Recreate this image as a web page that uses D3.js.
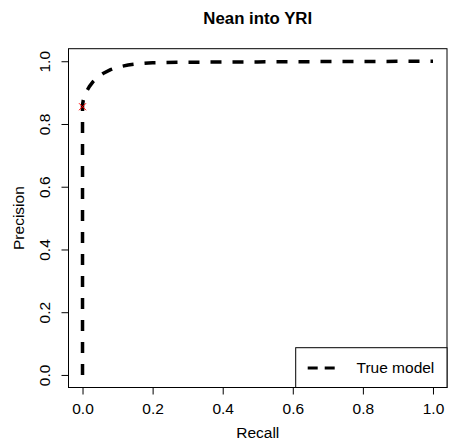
<!DOCTYPE html>
<html>
<head>
<meta charset="utf-8">
<script src="https://cdn.jsdelivr.net/npm/d3@7"></script>
<style>
  body { margin: 0; background: #fff; }
  text { font-family: "Liberation Sans", Arial, sans-serif; }
</style>
</head>
<body>
<div id="chart"></div>
<script>
const width = 450;
const height = 447;

// precision-recall curve
const recall =    [0, 0,    0.002, 0.006, 0.012, 0.02,  0.03,  0.045, 0.06,  0.08,  0.1,   0.13,  0.16,  0.2,   0.3,   0.5,   0.7,   1.0];
const precision = [0, 0.86, 0.875, 0.89,  0.905, 0.92,  0.935, 0.95,  0.962, 0.973, 0.981, 0.988, 0.992, 0.995, 0.997, 0.998, 0.999, 1.0];
const marker = [0.0, 0.855];
const ticks = [0, 0.2, 0.4, 0.6, 0.8, 1.0];
const title = "Nean into YRI";
const xLabel = "Recall";
const yLabel = "Precision";
const legendLabel = "True model";

const box = {left: 68.5, right: 447, top: 48.7, bottom: 387.5};

const x = d3.scaleLinear().domain([-0.04, 1.04]).range([box.left, box.right]);
const y = d3.scaleLinear().domain([-0.04, 1.04]).range([box.bottom, box.top]);

const svg = d3.select("#chart").append("svg")
    .attr("width", width)
    .attr("height", height)
    .attr("viewBox", [0, 0, width, height]);

svg.append("rect")
    .attr("width", width).attr("height", height)
    .attr("fill", "#fff");

// title
svg.append("text")
    .attr("x", (box.left + box.right) / 2)
    .attr("y", 24)
    .attr("text-anchor", "middle")
    .style("font-weight", "bold")
    .style("font-size", "16.8px")
    .text(title);

// axes
const xAxis = svg.append("g")
    .attr("transform", `translate(0,${box.bottom})`)
    .call(d3.axisBottom(x).tickValues(ticks).tickFormat(d3.format(".1f")).tickSize(7).tickPadding(6));
const yAxis = svg.append("g")
    .attr("transform", `translate(${box.left},0)`)
    .call(d3.axisLeft(y).tickValues(ticks).tickFormat(d3.format(".1f")).tickSize(7));

[xAxis, yAxis].forEach(a => {
  a.select(".domain").remove();
  a.selectAll("line").attr("stroke", "#000");
  a.selectAll("text")
    .style("font-size", "15.5px")
    .style("font-family", "Liberation Sans, Arial, sans-serif")
    .attr("fill", "#000");
});
xAxis.selectAll("text").attr("dy", "0.9em");
// R draws the y tick labels parallel to the axis
yAxis.selectAll(".tick text")
    .attr("x", 0).attr("y", 0).attr("dy", 0)
    .attr("text-anchor", "middle")
    .attr("transform", "translate(-19,0) rotate(-90)");

// axis titles
svg.append("text")
    .attr("x", (box.left + box.right) / 2)
    .attr("y", 438)
    .attr("text-anchor", "middle")
    .style("font-size", "15.5px")
    .text(xLabel);
svg.append("text")
    .attr("transform", `translate(24,${(box.top + box.bottom) / 2}) rotate(-90)`)
    .attr("text-anchor", "middle")
    .style("font-size", "15.5px")
    .text(yLabel);

// box
svg.append("rect")
    .attr("x", box.left).attr("y", box.top)
    .attr("width", box.right - box.left).attr("height", box.bottom - box.top)
    .attr("fill", "none").attr("stroke", "#000").attr("stroke-width", 1);

// curve
const pts = recall.map((r, i) => [r, precision[i]]);
svg.append("path")
    .datum(pts)
    .attr("fill", "none")
    .attr("stroke", "#000")
    .attr("stroke-width", 3.5)
    .attr("stroke-dasharray", "11,11")
    .attr("d", d3.line().x(d => x(d[0])).y(d => y(d[1])));

// red x marker
const s = 3.5;
const mx = x(marker[0]), my = y(marker[1]);
svg.append("path")
    .attr("d", `M${mx - s},${my - s}L${mx + s},${my + s}M${mx - s},${my + s}L${mx + s},${my - s}`)
    .attr("stroke", "#ff0000")
    .attr("stroke-width", 1);

// legend
const lg = svg.append("g");
lg.append("rect")
    .attr("x", 295.7).attr("y", 347.7)
    .attr("width", box.right - 295.7).attr("height", box.bottom - 347.7)
    .attr("fill", "#fff").attr("stroke", "#000").attr("stroke-width", 1);
lg.append("line")
    .attr("x1", 307.7).attr("x2", 335)
    .attr("y1", 368).attr("y2", 368)
    .attr("stroke", "#000").attr("stroke-width", 3)
    .attr("stroke-dasharray", "10,7");
lg.append("text")
    .attr("x", 356.5).attr("y", 368)
    .attr("dy", "0.35em")
    .style("font-size", "15.5px")
    .text(legendLabel);
</script>
</body>
</html>
